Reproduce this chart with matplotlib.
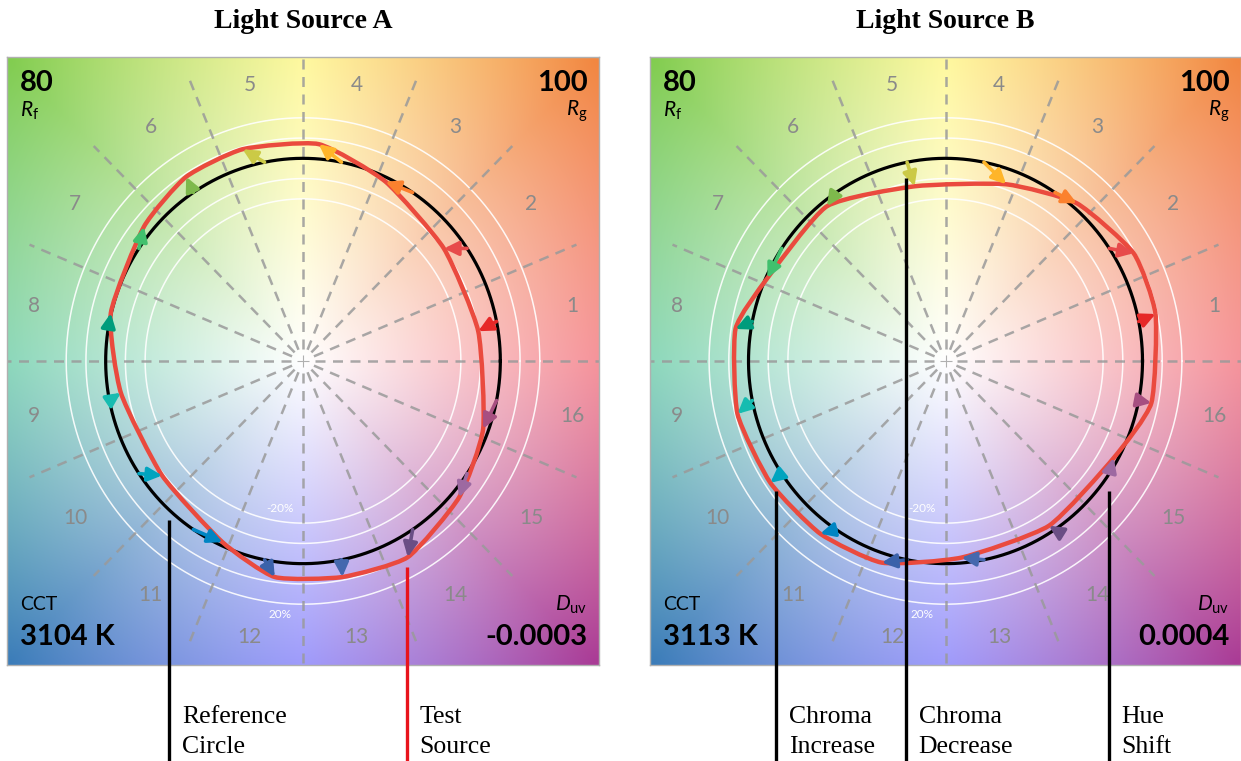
# TM-30 colour vector graphics for two light sources, side by side,
# with leader-line callouts underneath.

import numpy as np
import matplotlib
matplotlib.use("Agg")
import matplotlib.pyplot as plt
from matplotlib.patches import FancyArrowPatch, PathPatch
from matplotlib.path import Path

plt.rcParams["font.family"] = ["Lato", "DejaVu Sans"]
plt.rcParams["mathtext.fontset"] = "custom"
plt.rcParams["mathtext.rm"] = "Lato"
plt.rcParams["mathtext.it"] = "Lato:italic"

# ── data ────────────────────────────────────────────────────────────────
BIN_IDS = np.arange(1, 17)
BIN_ANGLES = np.deg2rad((BIN_IDS - 0.5) * 22.5)     # hue-bin centres

# average test-source chroma coordinates per hue bin (reference circle = 1)
A_X = [0.888, 0.714, 0.418, 0.080, -0.306, -0.592, -0.806, -0.974,
       -0.923, -0.714, -0.408, -0.143, 0.199, 0.531, 0.791, 0.913]
A_Y = [0.147, 0.555, 0.885, 1.070, 1.045, 0.909, 0.663, 0.236,
       -0.157, -0.565, -0.894, -1.066, -1.066, -0.968, -0.673, -0.334]
B_X = [1.066, 0.955, 0.667, 0.308, -0.157, -0.601, -0.904, -1.066,
       -1.056, -0.889, -0.636, -0.323, 0.081, 0.525, 0.854, 1.045]
B_Y = [0.232, 0.532, 0.778, 0.872, 0.862, 0.764, 0.409, 0.158,
       -0.261, -0.601, -0.852, -0.995, -0.970, -0.813, -0.478, -0.207]

SOURCES = ["Light Source A", "Light Source B"]
RF = ["80", "80"]
RG = ["100", "100"]
CCT = ["3104 K", "3113 K"]
DUV = ["-0.0003", "0.0004"]

BIN_COLORS = ["#e62828", "#e74b4b", "#fb812e", "#ffb529", "#cbca46", "#7eb94c",
              "#41c06d", "#009c7c", "#16bcb0", "#00a4bf", "#0085c3", "#3b62aa",
              "#4568ae", "#6a4e85", "#9d69a1", "#a74f81"]

# background hue wheel (angle in degrees -> RGB at full saturation)
BG_ANGLES = [0, 45, 90, 135, 180, 225, 270, 315, 360]
BG_COLORS = [(242, 105, 115), (242, 135, 65), (255, 246, 120), (130, 205, 80),
             (95, 200, 160), (60, 125, 185), (120, 115, 250), (170, 60, 150),
             (242, 105, 115)]

# callouts: label, anchor x, anchor y, line colour
CALLOUTS = [
    [("Reference\nCircle", -0.679, -0.786, "black"),
     ("Test\nSource", 0.526, -1.017, "#e8141c")],
    [("Chroma\nIncrease", -0.859, -0.640, "black"),
     ("Chroma\nDecrease", -0.202, 0.901, "black"),
     ("Hue\nShift", 0.828, -0.640, "black")],
]

LIM = 1.5
RED = "#ea4a3e"
TENSION = 0.55    # 1.0 = Catmull-Rom, 0.0 = straight segments


def hue_background(n=500):
    g = np.linspace(-LIM, LIM, n)
    xx, yy = np.meshgrid(g, g)
    ang = np.degrees(np.arctan2(yy, xx)) % 360
    r = np.hypot(xx, yy)
    cols = np.array(BG_COLORS) / 255.0
    rgb = np.stack([np.interp(ang, BG_ANGLES, cols[:, c]) for c in range(3)], axis=-1)
    s = np.clip(r / 2.1, 0, 1)[..., None]
    return 1 - s * (1 - rgb)


def closed_curve(xs, ys):
    # closed loop through the bin points, corners softened by cubic Beziers
    p = np.column_stack([xs, ys])
    n = len(p)
    verts = [p[0]]
    codes = [Path.MOVETO]
    for i in range(n):
        p0, p1, p2, p3 = p[i - 1], p[i], p[(i + 1) % n], p[(i + 2) % n]
        verts += [p1 + TENSION * (p2 - p0) / 6, p2 - TENSION * (p3 - p1) / 6, p2]
        codes += [Path.CURVE4] * 3
    return Path(verts, codes)


BG = hue_background()
theta = np.linspace(0, 2 * np.pi, 400)

fig = plt.figure(figsize=(12.41, 7.61), dpi=100)
fig.patch.set_facecolor("white")

panels = [(7, 592), (650, 591)]
for k, (left, width) in enumerate(panels):
    ax = fig.add_axes([left / 1241, (761 - 665) / 761, width / 1241, 608 / 761])
    ax.set_xlim(-LIM, LIM)
    ax.set_ylim(-LIM, LIM)
    ax.imshow(BG, extent=[-LIM, LIM, -LIM, LIM], origin="lower",
              aspect="auto", interpolation="bilinear", zorder=0)
    ax.set_xticks([]); ax.set_yticks([])
    for sp in ax.spines.values():
        sp.set_color("#b0b0b0"); sp.set_linewidth(1.0)

    # ±10 %, ±20 % chroma rings
    for rr in [0.8, 0.9, 1.1, 1.2]:
        ax.plot(rr * np.cos(theta), rr * np.sin(theta), color="white",
                lw=1.1, alpha=0.9, zorder=1)
    ax.text(-0.117, -0.727, "-20%", color="white", fontsize=8.5,
            ha="center", va="center", zorder=1)
    ax.text(-0.117, -1.253, "20%", color="white", fontsize=8.5,
            ha="center", va="center", zorder=1)

    # hue-bin boundaries
    for j in range(16):
        a = np.deg2rad(j * 22.5)
        ax.plot([0.06 * np.cos(a), LIM * np.cos(a)], [0.06 * np.sin(a), LIM * np.sin(a)],
                color="#9a9a9a", lw=1.8, dashes=(4, 3), alpha=0.85, zorder=2)
    ax.plot(0, 0, marker="+", color="#b0b0b0", ms=8, mew=0.8, zorder=2)

    # hue-bin numbers
    for j, a in zip(BIN_IDS, BIN_ANGLES):
        ax.text(1.39 * np.cos(a), 1.39 * np.sin(a), str(j), color="#8a8a8a",
                fontsize=15, ha="center", va="center", zorder=2)

    # reference circle and test source
    ax.plot(np.cos(theta), np.sin(theta), color="black", lw=2.3, zorder=3)
    xs, ys = (A_X, A_Y) if k == 0 else (B_X, B_Y)
    ax.add_patch(PathPatch(closed_curve(xs, ys), facecolor="none", edgecolor=RED,
                           lw=3.2, joinstyle="round", zorder=4))

    # per-bin shift vectors
    for j, a in enumerate(BIN_ANGLES):
        arr = FancyArrowPatch((np.cos(a), np.sin(a)), (xs[j], ys[j]),
                              arrowstyle="-|>,head_length=0.45,head_width=0.22",
                              mutation_scale=19, lw=2.6, color=BIN_COLORS[j],
                              shrinkA=0, shrinkB=0, zorder=5)
        ax.add_patch(arr)

    # corner metrics
    ax.text(0.022, 0.958, RF[k], transform=ax.transAxes, fontsize=21,
            fontweight="bold", ha="left", va="center")
    ax.text(0.022, 0.912, r"$R_{\mathrm{f}}$", transform=ax.transAxes,
            fontsize=15, ha="left", va="center")
    ax.text(0.981, 0.958, RG[k], transform=ax.transAxes, fontsize=21,
            fontweight="bold", ha="right", va="center")
    ax.text(0.981, 0.910, r"$R_{\mathrm{g}}$", transform=ax.transAxes,
            fontsize=15, ha="right", va="center")
    ax.text(0.022, 0.099, "CCT", transform=ax.transAxes, fontsize=14,
            ha="left", va="center")
    ax.text(0.022, 0.046, CCT[k], transform=ax.transAxes, fontsize=21,
            fontweight="bold", ha="left", va="center")
    ax.text(0.981, 0.099, r"$D_{\mathrm{uv}}$", transform=ax.transAxes,
            fontsize=15, ha="right", va="center")
    ax.text(0.981, 0.046, DUV[k], transform=ax.transAxes, fontsize=21,
            fontweight="bold", ha="right", va="center")

    ax.text(0.5, 1.0576, SOURCES[k], transform=ax.transAxes, fontsize=20,
            fontweight="bold", family="Liberation Serif", ha="center", va="center")

    # callouts running down below the panel
    for label, cx, cy, col in CALLOUTS[k]:
        ax.plot([cx, cx], [cy, -2.05], color=col, lw=2.4, clip_on=False,
                solid_capstyle="butt", zorder=6)
        ax.text(cx + 0.065, -1.83, label, fontsize=18.5, family="Liberation Serif",
                ha="left", va="center", linespacing=1.45, clip_on=False)

fig.savefig("out.png", dpi=100, facecolor="white")
